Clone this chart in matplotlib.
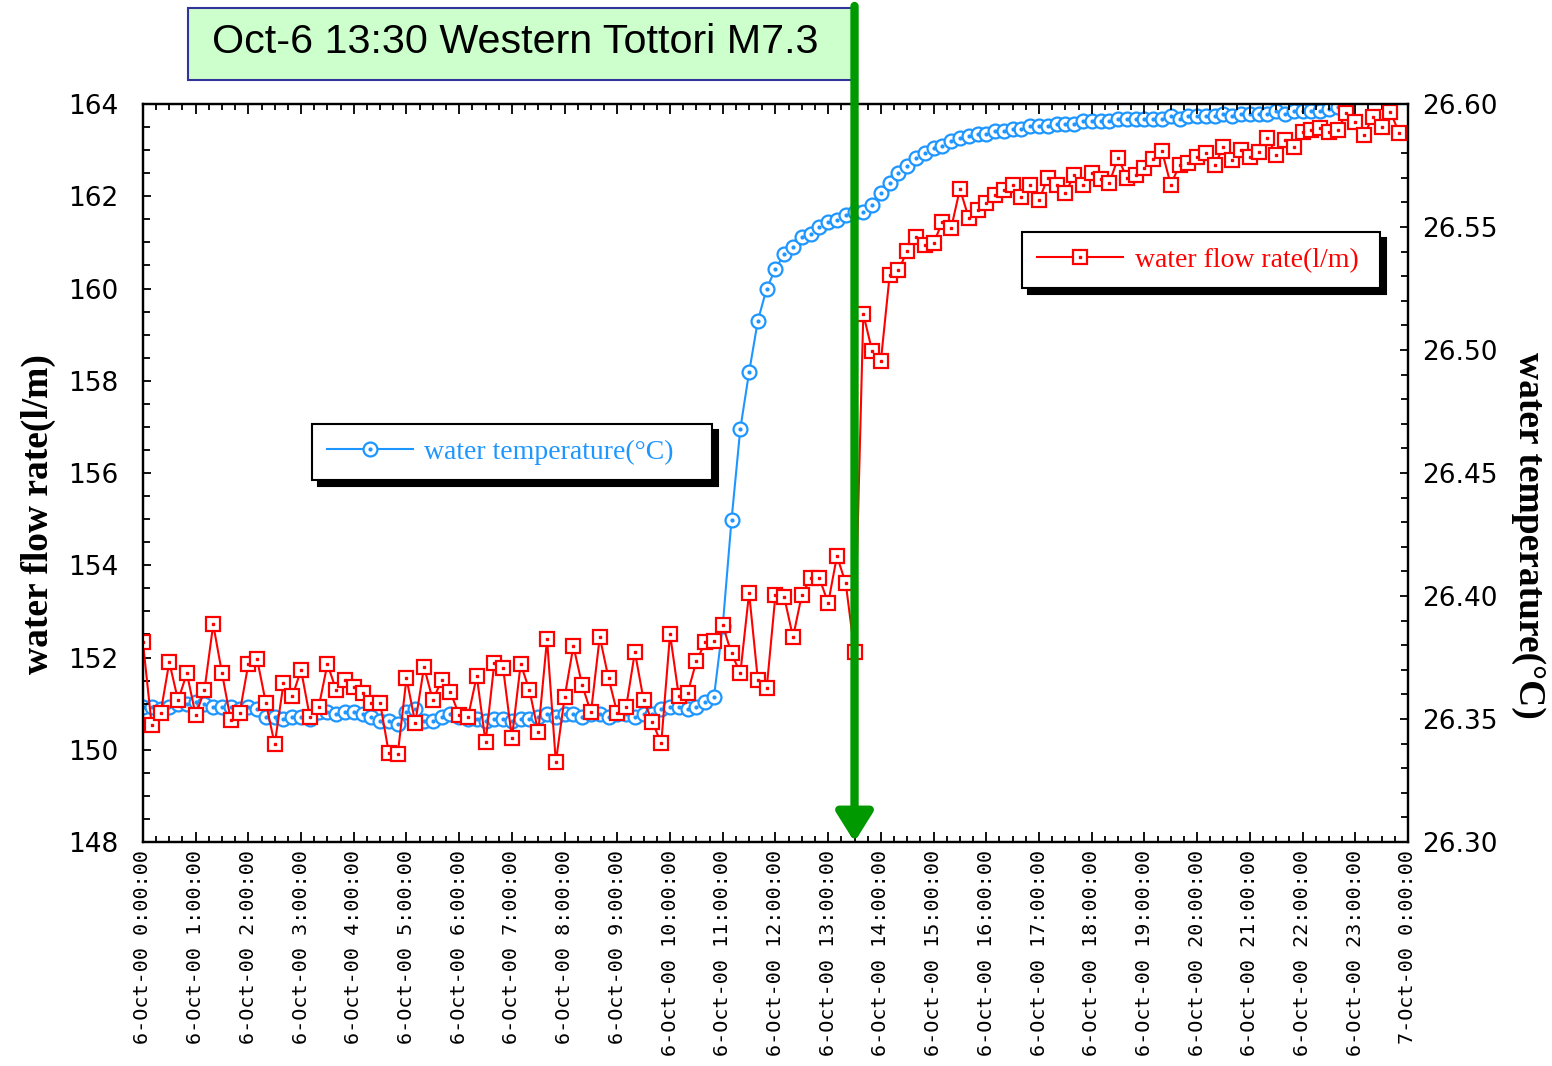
import matplotlib
matplotlib.use("Agg")
import matplotlib.pyplot as plt
import matplotlib.patches as mpatches
from matplotlib.legend_handler import HandlerTuple
from matplotlib.ticker import MultipleLocator
import numpy as np

# 10-minute readings from 6-Oct-00 0:00:00
flow_rate = [
    152.33, 150.53, 150.79, 151.90, 151.07, 151.66, 150.75, 151.29, 152.72, 151.66, 150.64, 150.79,
    151.86, 151.96, 151.01, 150.12, 151.44, 151.16, 151.73, 150.71, 150.92, 151.86, 151.29, 151.51,
    151.36, 151.23, 151.01, 151.01, 149.92, 149.90, 151.55, 150.58, 151.80, 151.07, 151.51, 151.25,
    150.75, 150.71, 151.60, 150.16, 151.88, 151.77, 150.25, 151.86, 151.29, 150.38, 152.40, 149.73,
    151.14, 152.25, 151.40, 150.81, 152.45, 151.55, 150.79, 150.92, 152.12, 151.07, 150.60, 150.14,
    152.51, 151.16, 151.23, 151.92, 152.33, 152.36, 152.70, 152.09, 151.66, 153.40, 151.51, 151.33,
    153.36, 153.31, 152.44, 153.36, 153.72, 153.72, 153.18, 154.20, 153.61, 152.12, 159.45, 158.65,
    158.43, 160.29, 160.40, 160.81, 161.12, 160.94, 160.99, 161.44, 161.31, 162.16, 161.53, 161.70,
    161.86, 162.03, 162.14, 162.25, 161.99, 162.25, 161.92, 162.40, 162.25, 162.07, 162.46, 162.25,
    162.51, 162.38, 162.29, 162.83, 162.40, 162.46, 162.61, 162.80, 162.98, 162.25, 162.68, 162.72,
    162.85, 162.94, 162.68, 163.07, 162.79, 163.01, 162.85, 162.96, 163.27, 162.90, 163.22, 163.07,
    163.40, 163.44, 163.48, 163.40, 163.44, 163.81, 163.61, 163.33, 163.72, 163.50, 163.83, 163.37,
]

water_temp = [
    26.355, 26.355, 26.354, 26.355, 26.356, 26.356, 26.357, 26.356,
    26.355, 26.355, 26.355, 26.354, 26.355, 26.354,
    26.351, 26.351, 26.350, 26.351, 26.351, 26.350,
    26.353, 26.353, 26.352, 26.353, 26.353, 26.352, 26.351,
    26.349, 26.349, 26.348, 26.353, 26.354, 26.349, 26.349,
    26.351, 26.352, 26.351,
    26.350, 26.350, 26.349, 26.350, 26.350, 26.349, 26.350, 26.350,
    26.351, 26.352, 26.351, 26.352, 26.352, 26.351, 26.352, 26.352, 26.351, 26.352, 26.352, 26.351, 26.352, 26.352,
    26.354, 26.355, 26.355, 26.354, 26.355, 26.357, 26.359,
    26.388, 26.431, 26.468, 26.491, 26.512, 26.525, 26.533, 26.539, 26.542, 26.546, 26.547,
    26.550, 26.552, 26.553, 26.555, 26.556, 26.556, 26.559, 26.564, 26.568, 26.572, 26.575,
    26.578, 26.580, 26.582, 26.583, 26.585, 26.586, 26.587, 26.588, 26.588, 26.589, 26.589,
    26.590, 26.590, 26.591, 26.591, 26.591, 26.592, 26.592,
    26.592, 26.593, 26.593, 26.593, 26.593, 26.594, 26.594, 26.594, 26.594, 26.594, 26.594,
    26.595, 26.594, 26.595,
    26.595, 26.595, 26.595, 26.596, 26.595, 26.596, 26.596, 26.596, 26.596, 26.597, 26.596,
    26.597, 26.597, 26.597, 26.597, 26.598, 26.599, 26.600,
]

hour_ticks = list(range(25))
hour_labels = [f"6-Oct-00 {h}:00:00" for h in range(24)] + ["7-Oct-00 0:00:00"]
flow_ticks = [148, 150, 152, 154, 156, 158, 160, 162, 164]
temp_ticks = [26.30, 26.35, 26.40, 26.45, 26.50, 26.55, 26.60]
quake_hour = 13.5
quake_text = "Oct-6 13:30 Western Tottori M7.3"

RED = "#FF0000"
BLUE = "#1E96FF"
GREEN = "#009900"

flow_t = np.arange(len(flow_rate)) / 6.0
temp_t = np.arange(len(water_temp)) / 6.0

fig = plt.figure(figsize=(15.52, 10.66), dpi=100)
ax = fig.add_axes([0.0921, 0.2101, 0.8151, 0.6923])
ax2 = ax.twinx()
ax.set_zorder(ax2.get_zorder() + 1)
ax.patch.set_visible(False)

# temperature (right axis)
t_line, = ax2.plot(temp_t, water_temp, color=BLUE, lw=1.5, marker="o", ms=10,
                   mfc="white", mec=BLUE, mew=1.6)
t_dot, = ax2.plot(temp_t, water_temp, ls="none", marker="o", ms=2, color=BLUE)

# flow rate (left axis)
f_line, = ax.plot(flow_t, flow_rate, color=RED, lw=1.5, marker="s", ms=10.5,
                  mfc="white", mec=RED, mew=1.6)
f_dot, = ax.plot(flow_t, flow_rate, ls="none", marker="s", ms=2, color=RED)

ax.set_xlim(0, 24)
ax.set_ylim(148, 164)
ax2.set_ylim(26.30, 26.60)

ax.set_xticks(hour_ticks)
ax.set_xticklabels(hour_labels, rotation=90, family="DejaVu Sans Mono", fontsize=14.5)
ax.xaxis.set_minor_locator(MultipleLocator(0.25))
ax.set_yticks(flow_ticks)
ax.set_yticklabels([str(v) for v in flow_ticks], family="DejaVu Sans", fontsize=19)
ax.yaxis.set_minor_locator(MultipleLocator(0.5))
ax2.set_yticks(temp_ticks)
ax2.set_yticklabels([f"{v:.2f}" for v in temp_ticks], family="DejaVu Sans", fontsize=19)
ax2.yaxis.set_minor_locator(MultipleLocator(0.01))

ax.tick_params(axis="x", which="both", direction="in", top=True, bottom=True, pad=6)
ax.tick_params(axis="x", which="major", length=7, width=1.3)
ax.tick_params(axis="x", which="minor", length=4, width=1.3)
ax.tick_params(axis="y", which="both", direction="in", left=True, right=False, pad=18)
ax.tick_params(axis="y", which="major", length=6, width=1.3)
ax.tick_params(axis="y", which="minor", length=5, width=1.3)
ax2.tick_params(axis="y", which="both", direction="in", right=True, pad=10)
ax2.tick_params(axis="y", which="major", length=6, width=1.3)
ax2.tick_params(axis="y", which="minor", length=5, width=1.3)
for a in (ax, ax2):
    for sp in a.spines.values():
        sp.set_linewidth(1.6)

ax.set_ylabel("water flow rate(l/m)", family="Liberation Serif", fontweight="bold", fontsize=27)
ax.yaxis.set_label_coords(-0.083, 0.444)
ax.yaxis.label.set_va("center")
ax2.set_ylabel("water temperature(°C)", family="Liberation Serif", fontweight="bold",
               fontsize=27, rotation=270)
ax2.yaxis.set_label_coords(1.095, 0.416)
ax2.yaxis.label.set_va("center")

shadow = {"ox": 4, "oy": -4, "color": "black", "alpha": 1}
leg_kw = dict(loc="upper left", mode="expand", borderaxespad=0, fancybox=False,
              framealpha=1, edgecolor="black", borderpad=0.55, handlelength=3.1,
              handletextpad=0.4,
              prop={"family": "Liberation Serif", "size": 20},
              handler_map={tuple: HandlerTuple(ndivide=1, pad=0)})

leg1 = ax.legend([(t_line, t_dot)], ["water temperature(°C)"],
                 bbox_to_anchor=(0.1336, 0.4664, 0.3162, 0.1), shadow=shadow, **leg_kw)
leg1.get_frame().set_linewidth(1.5)
for txt in leg1.get_texts():
    txt.set_color(BLUE)
ax.add_artist(leg1)

leg2 = ax.legend([(f_line, f_dot)], ["water flow rate(l/m)"],
                 bbox_to_anchor=(0.6949, 0.7266, 0.2830, 0.1), shadow=shadow, **leg_kw)
leg2.get_frame().set_linewidth(1.5)
for txt in leg2.get_texts():
    txt.set_color(RED)

# earthquake marker
box = mpatches.Rectangle((188 / 1552, 1 - 80 / 1066), 667 / 1552, 72 / 1066,
                         transform=fig.transFigure, facecolor="#CCFFCC",
                         edgecolor="#333399", linewidth=1.5, zorder=-1)
fig.add_artist(box)
fig.text(212 / 1552, 1 - 42 / 1066, quake_text, family="Liberation Sans", fontsize=29.7,
         va="center", ha="left", zorder=-1)

ax.annotate("", xy=(quake_hour, 148), xycoords="data",
            xytext=(quake_hour, 1 - 6 / 1066), textcoords=("data", "figure fraction"),
            arrowprops=dict(arrowstyle="-|>,head_length=0.8,head_width=0.5",
                            color=GREEN, lw=6, shrinkA=0, shrinkB=0, mutation_scale=22),
            annotation_clip=False, zorder=20)

fig.savefig("out.png", dpi=100, facecolor="white")
